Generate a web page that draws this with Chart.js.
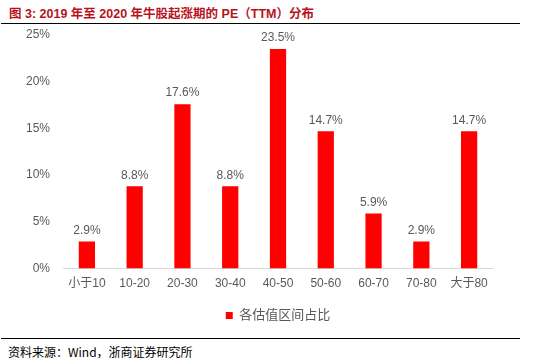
<!DOCTYPE html>
<html>
<head>
<meta charset="utf-8">
<script src="https://cdn.jsdelivr.net/npm/chart.js@4/dist/chart.umd.min.js"></script>
<style>
body { margin: 0; width: 550px; height: 363px; background: #fff; overflow: hidden; position: relative; font-family: "Liberation Sans", "Noto Sans CJK SC", sans-serif; }
#title { position: absolute; left: 9px; top: 3px; font-size: 12.5px; font-weight: bold; color: #B8121B; white-space: nowrap; }
.rule { position: absolute; left: 1px; width: 519px; height: 1px; background: #000; }
#chartBox { position: absolute; left: 0; top: 18px; width: 520px; height: 314px; }
#source { position: absolute; left: 8px; top: 343px; font-size: 12px; color: #000; font-family: "Noto Sans CJK SC", sans-serif; }
</style>
</head>
<body>
<div id="title">图 3: 2019 年至 2020 年牛股起涨期的 PE（TTM）分布</div>
<div class="rule" style="top:23px"></div>
<div id="chartBox"><canvas id="chart"></canvas></div>
<div class="rule" style="top:338px"></div>
<div id="source">资料来源：Wind，浙商证券研究所</div>
<script>
const categories = ["小于10", "10-20", "20-30", "30-40", "40-50", "50-60", "60-70", "70-80", "大于80"];
const shares = [2.9, 8.8, 17.6, 8.8, 23.5, 14.7, 5.9, 2.9, 14.7];
const seriesName = "各估值区间占比";
const yTicks = [0, 5, 10, 15, 20, 25];

const textColor = "#595959";
const fontFamily = "'Liberation Sans', 'Noto Sans CJK SC', sans-serif";

// draws the value above each bar, like the excel data labels
const barLabels = {
    id: "barLabels",
    afterDatasetsDraw(chart) {
        const ctx = chart.ctx;
        const meta = chart.getDatasetMeta(0);
        ctx.save();
        ctx.font = "12px " + fontFamily;
        ctx.fillStyle = textColor;
        ctx.textAlign = "center";
        ctx.textBaseline = "bottom";
        meta.data.forEach((bar, i) => {
            ctx.fillText(shares[i].toFixed(1) + "%", bar.x, bar.y - 5);
        });
        ctx.restore();
    }
};

const ctx = document.getElementById("chart").getContext("2d");
new Chart(ctx, {
    type: "bar",
    data: {
        labels: categories,
        datasets: [{
            label: seriesName,
            data: shares,
            backgroundColor: "#FF0000",
            categoryPercentage: 1,
            barPercentage: 0.34
        }]
    },
    options: {
        responsive: true,
        maintainAspectRatio: false,
        animation: false,
        layout: { padding: { top: 17, right: 27, bottom: 0, left: 0 } },
        plugins: {
            legend: {
                position: "bottom",
                fullSize: false, // centre legend under the plot area
                labels: {
                    boxWidth: 7,
                    boxHeight: 7,
                    color: textColor,
                    font: { size: 13, family: fontFamily },
                    padding: 18
                }
            },
            tooltip: { enabled: false }
        },
        scales: {
            x: {
                grid: { display: false },
                border: { display: true, color: "#D9D9D9" },
                ticks: { color: textColor, font: { size: 12, family: fontFamily }, padding: 0, maxRotation: 0 }
            },
            y: {
                min: 0,
                max: 25,
                afterBuildTicks: (scale) => { scale.ticks = yTicks.map(v => ({ value: v })); },
                afterFit: (scale) => { scale.width = 63; },
                grid: { display: false },
                border: { display: false },
                ticks: {
                    color: textColor,
                    font: { size: 12, family: fontFamily },
                    padding: 5,
                    callback: (v) => v + "%"
                }
            }
        }
    },
    plugins: [barLabels]
});
</script>
</body>
</html>
